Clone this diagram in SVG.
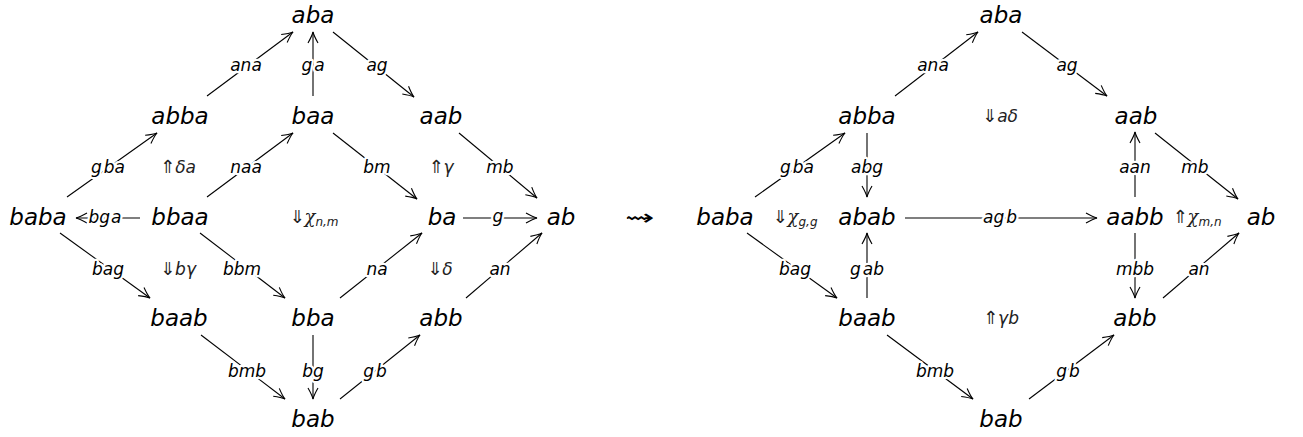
<svg xmlns="http://www.w3.org/2000/svg" width="1303" height="437" viewBox="0 0 1303 437">
<style>
.n{font-family:"DejaVu Sans",sans-serif;font-style:italic;font-size:23px;text-anchor:middle;fill:#000}
.l{font-family:"DejaVu Sans",sans-serif;font-style:italic;font-size:17px;text-anchor:middle;fill:#000;paint-order:stroke;stroke:#fff;stroke-width:4.5px;stroke-linejoin:round}
.c{font-family:"DejaVu Sans",sans-serif;font-size:18px;text-anchor:middle;fill:#222}
.c .it{font-style:italic;font-size:17px}
.c .chi{font-family:"DejaVu Serif",serif;font-style:italic;font-size:18px}
.c .sub{font-style:italic;font-size:12px}
.e line{stroke:#000;stroke-width:1.1;fill:none;marker-end:url(#ah)}
</style>
<defs>
<marker id="ah" markerWidth="14" markerHeight="14" refX="12" refY="7" orient="auto" markerUnits="userSpaceOnUse" viewBox="0 0 14 14">
<path d="M1,2 Q8,6 12,7 Q8,8 1,12" fill="none" stroke="#000" stroke-width="1.1"/>
</marker>
</defs>
<rect width="1303" height="437" fill="#fff"/>

<!-- connectors -->
<g id="connectors" class="e">
<!-- left diagram -->
<line x1="207" y1="96" x2="293" y2="32"/>
<line x1="313" y1="96" x2="313" y2="32"/>
<line x1="333" y1="32" x2="414" y2="97"/>
<line x1="67" y1="197" x2="157" y2="133"/>
<line x1="207" y1="197" x2="293" y2="133"/>
<line x1="333" y1="133" x2="417" y2="199"/>
<line x1="459" y1="133" x2="537" y2="198"/>
<line x1="140" y1="218" x2="76" y2="218"/>
<line x1="463" y1="218" x2="537" y2="218"/>
<line x1="60" y1="233" x2="150" y2="298"/>
<line x1="200" y1="233" x2="285" y2="298"/>
<line x1="340" y1="298" x2="422" y2="233"/>
<line x1="466" y1="298" x2="542" y2="233"/>
<line x1="201" y1="335" x2="285" y2="399"/>
<line x1="313" y1="335" x2="313" y2="399"/>
<line x1="340" y1="399" x2="420" y2="335"/>
<!-- right diagram -->
<line x1="895" y1="96" x2="978" y2="32"/>
<line x1="1022" y1="32" x2="1107" y2="96"/>
<line x1="755" y1="197" x2="845" y2="133"/>
<line x1="867" y1="133" x2="867" y2="197"/>
<line x1="1135" y1="197" x2="1135" y2="132"/>
<line x1="1155" y1="133" x2="1238" y2="199"/>
<line x1="905" y1="218" x2="1097" y2="218"/>
<line x1="747" y1="233" x2="837" y2="298"/>
<line x1="867" y1="298" x2="867" y2="233"/>
<line x1="1135" y1="233" x2="1135" y2="298"/>
<line x1="1163" y1="298" x2="1239" y2="233"/>
<line x1="887" y1="335" x2="973" y2="399"/>
<line x1="1029" y1="399" x2="1114" y2="335"/>

<!-- edge labels left -->
<text class="l" x="246" y="71">ana</text>
<text class="l" x="313" y="71">g<tspan dx="2">a</tspan></text>
<text class="l" x="377" y="71">ag</text>
<text class="l" x="108" y="173">g<tspan dx="2">ba</tspan></text>
<text class="l" x="246" y="173">naa</text>
<text class="l" x="377" y="173">bm</text>
<text class="l" x="500" y="173">mb</text>
<text class="l" x="105" y="223">bg<tspan dx="1">a</tspan></text>
<text class="l" x="498" y="222">g</text>
<text class="l" x="108" y="275">bag</text>
<text class="l" x="242" y="275">bbm</text>
<text class="l" x="377" y="275">na</text>
<text class="l" x="500" y="275">an</text>
<text class="l" x="247" y="377">bmb</text>
<text class="l" x="313" y="377">bg</text>
<text class="l" x="375" y="377">g<tspan dx="2">b</tspan></text>
<!-- edge labels right -->
<text class="l" x="933" y="71">ana</text>
<text class="l" x="1067" y="71">ag</text>
<text class="l" x="797" y="173">g<tspan dx="2">ba</tspan></text>
<text class="l" x="867" y="173">abg</text>
<text class="l" x="1135" y="173">aan</text>
<text class="l" x="1195" y="173">mb</text>
<text class="l" x="1000" y="223">ag<tspan dx="2">b</tspan></text>
<text class="l" x="795" y="275">bag</text>
<text class="l" x="867" y="275">g<tspan dx="2">ab</tspan></text>
<text class="l" x="1135" y="275">mbb</text>
<text class="l" x="1199" y="275">an</text>
<text class="l" x="935" y="377">bmb</text>
<text class="l" x="1068" y="377">g<tspan dx="2">b</tspan></text>
</g>

<!-- 2-cells -->
<g id="cells">
<text class="c" x="178" y="173">⇑<tspan class="it">δa</tspan></text>
<text class="c" x="441" y="173">⇑<tspan class="it">γ</tspan></text>
<text class="c" x="314" y="223">⇓<tspan class="chi">χ</tspan><tspan class="sub" dy="3">n,m</tspan></text>
<text class="c" x="178" y="275">⇓<tspan class="it">bγ</tspan></text>
<text class="c" x="440" y="275">⇓<tspan class="it">δ</tspan></text>
<text class="c" x="1000" y="122">⇓<tspan class="it">aδ</tspan></text>
<text class="c" x="795" y="223">⇓<tspan class="chi">χ</tspan><tspan class="sub" dy="3">g,g</tspan></text>
<text class="c" x="1197" y="223">⇑<tspan class="chi">χ</tspan><tspan class="sub" dy="3">m,n</tspan></text>
<text class="c" x="1001" y="324">⇑<tspan class="it">γb</tspan></text>
</g>

<g id="leadsto" transform="translate(640,225) scale(1.6,1)"><text class="c" x="0" y="0" style="font-size:22px;fill:#000;font-weight:normal">⇝</text></g>

<!-- left nodes -->
<g id="L-aba"><text class="n" x="313" y="23">aba</text></g>
<g id="L-abba"><text class="n" x="180" y="124">abba</text></g>
<g id="L-baa"><text class="n" x="313" y="124">baa</text></g>
<g id="L-aab"><text class="n" x="441" y="124">aab</text></g>
<g id="L-baba"><text class="n" x="38" y="225">baba</text></g>
<g id="L-bbaa"><text class="n" x="180" y="225">bbaa</text></g>
<g id="L-ba"><text class="n" x="442" y="225">ba</text></g>
<g id="L-ab"><text class="n" x="561" y="225">ab</text></g>
<g id="L-baab"><text class="n" x="179" y="326">baab</text></g>
<g id="L-bba"><text class="n" x="313" y="326">bba</text></g>
<g id="L-abb"><text class="n" x="441" y="326">abb</text></g>
<g id="L-bab"><text class="n" x="313" y="427">bab</text></g>
<!-- right nodes -->
<g id="R-aba"><text class="n" x="1001" y="23">aba</text></g>
<g id="R-abba"><text class="n" x="867" y="124">abba</text></g>
<g id="R-aab"><text class="n" x="1136" y="124">aab</text></g>
<g id="R-baba"><text class="n" x="725" y="225">baba</text></g>
<g id="R-abab"><text class="n" x="867" y="225">abab</text></g>
<g id="R-aabb"><text class="n" x="1135" y="225">aabb</text></g>
<g id="R-ab"><text class="n" x="1261" y="225">ab</text></g>
<g id="R-baab"><text class="n" x="867" y="326">baab</text></g>
<g id="R-abb"><text class="n" x="1135" y="326">abb</text></g>
<g id="R-bab"><text class="n" x="1001" y="427">bab</text></g>
</svg>
